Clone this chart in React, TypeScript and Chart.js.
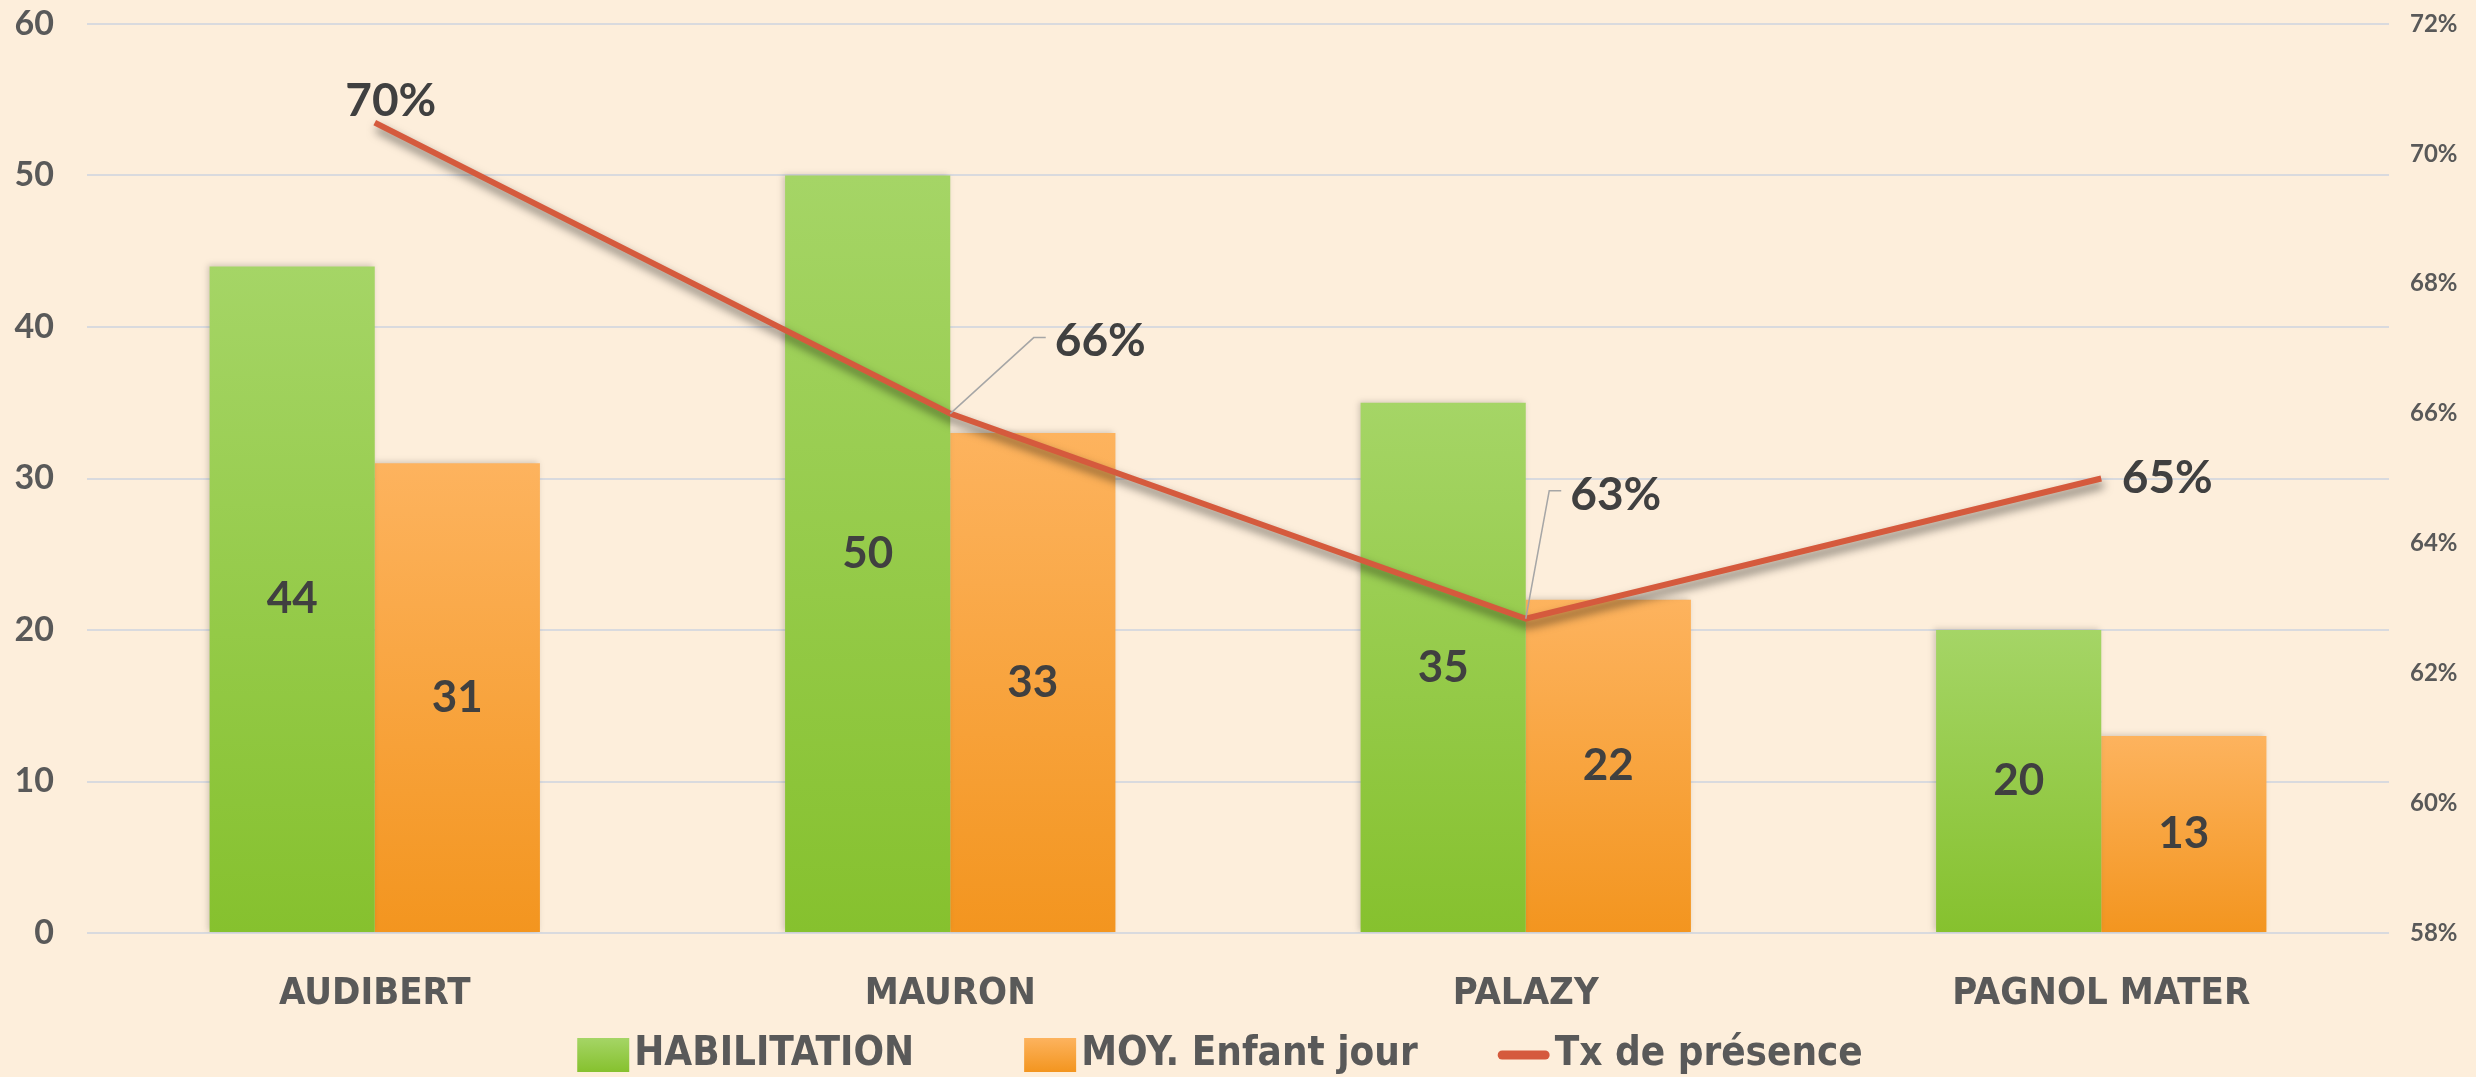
import React, { useEffect, useRef } from "react";
import { Chart, registerables } from "chart.js";

Chart.register(...registerables);

const categories = ["AUDIBERT", "MAURON", "PALAZY", "PAGNOL MATER"];
const habilitation = [44, 50, 35, 20];
const moyEnfant = [31, 33, 22, 13];
const txPresence = [0.7048, 0.66, 0.6284, 0.65];
const seriesNames = ["HABILITATION", "MOY. Enfant jour", "Tx de présence"];

// label placement styles for the percentage labels (offset from point, leader line)
const pctLabelOffsets = [
  { dx: 16, dy: -22, leader: false },
  { dx: 150, dy: -72, leader: true },
  { dx: 90, dy: -124, leader: true },
  { dx: 66, dy: 0, leader: false },
];

const BG = "#fdeedb";
const GREEN_TOP = "#a5d566";
const GREEN_BOT = "#86c12e";
const ORANGE_TOP = "#fdb35e";
const ORANGE_BOT = "#f3951f";
const LINE = "#d55a3d";
const TEXT_DARK = "#404040";
const TEXT_GREY = "#595959";
const NUM_FONT = "Lato, 'DejaVu Sans', sans-serif";
const CAT_FONT = "'DejaVu Sans Condensed', 'DejaVu Sans', sans-serif";

function barGradient(top: string, bot: string) {
  return (ctx: any) => {
    const chart = ctx.chart;
    const y = chart.scales && chart.scales.y;
    if (!chart.chartArea || !y || ctx.parsed == null || ctx.dataIndex == null) return bot;
    const yTop = y.getPixelForValue(ctx.parsed.y);
    const yBase = y.getPixelForValue(0);
    if (!isFinite(yTop) || !isFinite(yBase) || yTop === yBase) return bot;
    const g = chart.ctx.createLinearGradient(0, yTop, 0, yBase);
    g.addColorStop(0, top);
    g.addColorStop(1, bot);
    return g;
  };
}

const shadowPlugin = {
  id: "shadows",
  beforeDatasetDraw(chart: any, args: any) {
    const c = chart.ctx;
    c.save();
    if (args.meta.type === "line") {
      c.shadowColor = "rgba(0,0,0,0.55)";
      c.shadowBlur = 10;
      c.shadowOffsetX = 2;
      c.shadowOffsetY = 6;
    } else {
      c.shadowColor = "rgba(0,0,0,0.18)";
      c.shadowBlur = 6;
      c.shadowOffsetX = -2;
      c.shadowOffsetY = -1;
    }
  },
  afterDatasetDraw(chart: any) {
    chart.ctx.restore();
  },
};

const labelsPlugin = {
  id: "valueLabels",
  afterDatasetsDraw(chart: any) {
    const c = chart.ctx;
    c.save();
    [0, 1].forEach((di) => {
      const meta = chart.getDatasetMeta(di);
      const vals = chart.data.datasets[di].data as number[];
      meta.data.forEach((el: any, i: number) => {
        c.font = `bold 44px ${NUM_FONT}`;
        c.fillStyle = TEXT_DARK;
        c.textAlign = "center";
        c.textBaseline = "middle";
        c.fillText(String(vals[i]), el.x, (el.y + el.base) / 2);
      });
    });
    const lm = chart.getDatasetMeta(2);
    const lv = chart.data.datasets[2].data as number[];
    lm.data.forEach((el: any, i: number) => {
      const off = pctLabelOffsets[i];
      const text = Math.round(lv[i] * 100) + "%";
      c.font = `bold 46px ${NUM_FONT}`;
      const w = c.measureText(text).width;
      const cx = el.x + off.dx;
      const cy = el.y + off.dy;
      if (off.leader) {
        const left = cx - w / 2;
        c.strokeStyle = "#a6a6a6";
        c.lineWidth = 1.5;
        c.beginPath();
        c.moveTo(el.x, el.y);
        c.lineTo(left - 21, cy - 4);
        c.lineTo(left - 9, cy - 4);
        c.stroke();
      }
      c.fillStyle = TEXT_DARK;
      c.textAlign = "center";
      c.textBaseline = "middle";
      c.fillText(text, cx, cy);
    });
    c.restore();
  },
};

// bottom legend drawn on the canvas
const legendPlugin = {
  id: "bottomLegend",
  afterDraw(chart: any) {
    const c = chart.ctx;
    c.save();
    c.font = `bold 40px ${CAT_FONT}`;
    const boxW = 52, boxH = 34, gapText = 5;
    const gaps = [110, 80];
    const items = [
      { text: seriesNames[0], kind: "box", top: GREEN_TOP, bot: GREEN_BOT },
      { text: seriesNames[1], kind: "box", top: ORANGE_TOP, bot: ORANGE_BOT },
      { text: seriesNames[2], kind: "line", top: LINE, bot: LINE },
    ];
    const widths = items.map((it) => boxW + gapText + c.measureText(it.text).width);
    const total = widths.reduce((a, b) => a + b, 0) + gaps[0] + gaps[1];
    let x = chart.width / 2 - 18 - total / 2;
    const cy = chart.height - 22;
    items.forEach((it, i) => {
      if (it.kind === "box") {
        const g = c.createLinearGradient(0, cy - boxH / 2, 0, cy + boxH / 2);
        g.addColorStop(0, it.top);
        g.addColorStop(1, it.bot);
        c.fillStyle = g;
        c.fillRect(x, cy - boxH / 2, boxW, boxH);
      } else {
        c.strokeStyle = LINE;
        c.lineWidth = 9;
        c.lineCap = "round";
        c.beginPath();
        c.moveTo(x + 4.5, cy);
        c.lineTo(x + boxW - 4.5, cy);
        c.stroke();
      }
      c.fillStyle = TEXT_GREY;
      c.textAlign = "left";
      c.textBaseline = "middle";
      c.fillText(it.text, x + boxW + gapText, cy);
      x += widths[i] + (gaps[i] || 0);
    });
    c.restore();
  },
};

export default function App() {
  const ref = useRef<HTMLCanvasElement | null>(null);

  useEffect(() => {
    document.body.style.margin = "0";
    if (!ref.current) return;
    const chart = new Chart(ref.current, {
      type: "bar",
      data: {
        labels: categories,
        datasets: [
          {
            type: "bar",
            label: seriesNames[0],
            data: habilitation,
            backgroundColor: barGradient(GREEN_TOP, GREEN_BOT),
            yAxisID: "y",
            order: 1,
            categoryPercentage: 0.574,
            barPercentage: 1,
          },
          {
            type: "bar",
            label: seriesNames[1],
            data: moyEnfant,
            backgroundColor: barGradient(ORANGE_TOP, ORANGE_BOT),
            yAxisID: "y",
            order: 1,
            categoryPercentage: 0.574,
            barPercentage: 1,
          },
          {
            type: "line",
            label: seriesNames[2],
            data: txPresence,
            borderColor: LINE,
            backgroundColor: LINE,
            borderWidth: 6,
            pointRadius: 0,
            pointHoverRadius: 0,
            tension: 0,
            yAxisID: "y1",
            order: 0,
          } as any,
        ],
      },
      options: {
        animation: false,
        responsive: true,
        maintainAspectRatio: false,
        layout: { padding: { left: 0, right: 0, top: 24, bottom: 66 } },
        plugins: {
          tooltip: { enabled: false },
          legend: { display: false },
        },
        scales: {
          x: {
            grid: { display: false },
            border: { display: false },
            ticks: {
              color: TEXT_GREY,
              padding: 30,
              font: { family: CAT_FONT, size: 38, weight: "bold" },
            },
            afterFit: (s: any) => {
              s.height = 78;
              s.paddingLeft = 0;
              s.paddingRight = 0;
            },
          },
          y: {
            position: "left",
            min: 0,
            max: 60,
            ticks: {
              stepSize: 10,
              color: TEXT_GREY,
              padding: 33,
              font: { family: NUM_FONT, size: 34, weight: "bold" },
            },
            grid: { color: "#d9dade", lineWidth: 2, drawTicks: false },
            border: { display: false },
            afterFit: (s: any) => {
              s.width = 87;
              s.paddingTop = 0;
              s.paddingBottom = 0;
            },
          },
          y1: {
            position: "right",
            min: 0.58,
            max: 0.72,
            ticks: {
              stepSize: 0.02,
              color: TEXT_GREY,
              padding: 21,
              font: { family: NUM_FONT, size: 24, weight: "bold" },
              callback: (v: any) => Math.round(Number(v) * 100) + "%",
            },
            grid: { drawOnChartArea: false, drawTicks: false },
            border: { display: false },
            afterFit: (s: any) => {
              s.width = 87;
              s.paddingTop = 0;
              s.paddingBottom = 0;
            },
          },
        },
      },
      plugins: [shadowPlugin, labelsPlugin, legendPlugin],
    });
    return () => chart.destroy();
  }, []);

  return (
    <div style={{ width: "2476px", height: "1077px", background: BG, position: "relative" }}>
      <canvas ref={ref} style={{ width: "100%", height: "100%" }} />
    </div>
  );
}
